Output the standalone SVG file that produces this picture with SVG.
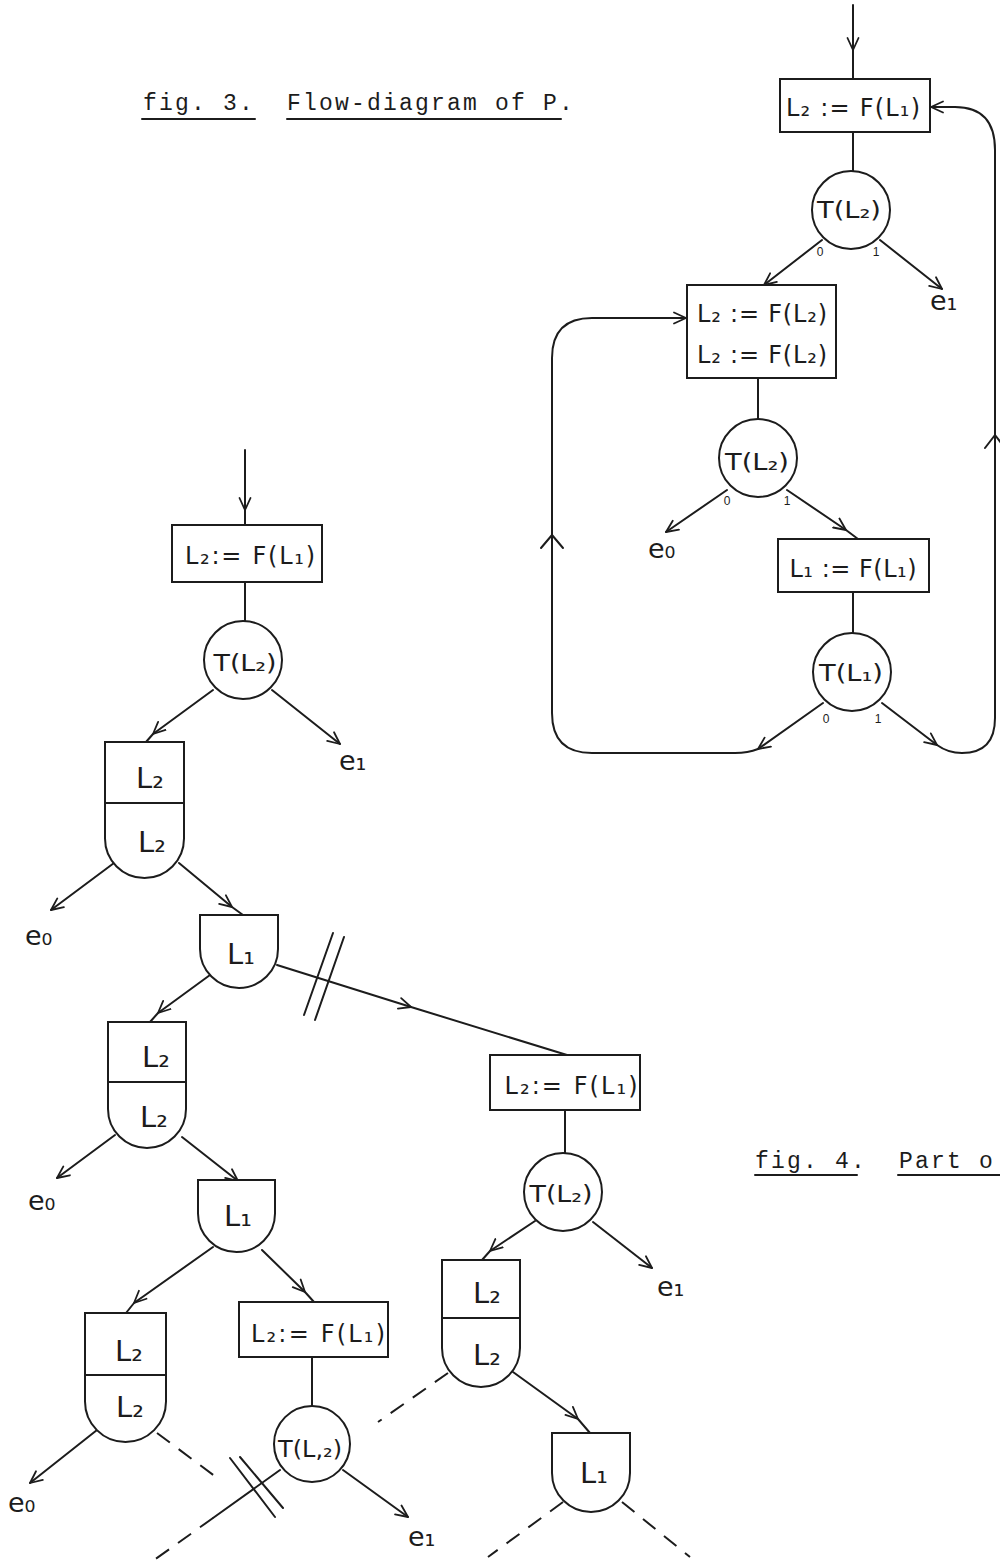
<svg xmlns="http://www.w3.org/2000/svg" width="1000" height="1564" viewBox="0 0 1000 1564">
<defs>
<style>
.ln{fill:none;stroke:#1c1c1c;stroke-width:2;stroke-linecap:round;stroke-linejoin:round}
.nd{fill:#fff;stroke:#1c1c1c;stroke-width:2}
.dash{fill:none;stroke:#1c1c1c;stroke-width:2;stroke-dasharray:16 11}
.end{marker-end:url(#ah)}
.mid{marker-mid:url(#ah)}
.t{font-family:"DejaVu Sans",sans-serif;fill:#1c1c1c}
.bt{font-size:24px;text-anchor:middle}
.ct{font-size:23px;text-anchor:middle}
.lb{font-size:29px;text-anchor:middle}
.el{font-size:27px}
.br{font-family:"Liberation Sans",sans-serif;font-size:12px;fill:#1c1c1c;text-anchor:middle}
.ttl{font-family:"Liberation Mono",monospace;font-size:23px;letter-spacing:2.2px;fill:#1c1c1c;white-space:pre}
</style>
<marker id="ah" viewBox="0 0 14 14" refX="13" refY="7" markerWidth="14" markerHeight="14" markerUnits="userSpaceOnUse" orient="auto">
<path d="M1,1.5 L13,7 L1,12.5" fill="none" stroke="#1c1c1c" stroke-width="1.8" stroke-linecap="round" stroke-linejoin="round"/>
</marker>
</defs>
<rect width="1000" height="1564" fill="#fff"/>

<g id="titles">
<text class="ttl" x="143" y="110" xml:space="preserve">fig. 3.  Flow-diagram of P.</text>
<line class="ln" x1="142" y1="119" x2="255" y2="119" stroke-width="1.6"/>
<line class="ln" x1="287" y1="119" x2="561" y2="119" stroke-width="1.6"/>
<text class="ttl" x="755" y="1168" xml:space="preserve">fig. 4.  Part o</text>
<line class="ln" x1="755" y1="1175" x2="857" y2="1175" stroke-width="1.6"/>
<line class="ln" x1="898" y1="1175" x2="1000" y2="1175" stroke-width="1.6"/>
</g>

<g id="connectors">
<!-- fig 3 -->
<path class="ln mid" d="M853,5 L853,50 L853,79"/>
<path class="ln" d="M853,132 L853,171"/>
<path class="ln end" d="M822,240 L764,285"/>
<path class="ln end" d="M880,240 L942,289"/>
<path class="ln" d="M758,378 L758,419"/>
<path class="ln end" d="M727,490 L666,532"/>
<path class="ln mid" d="M787,490 L846,530 L858,539"/>
<path class="ln" d="M853,592 L853,633"/>
<path class="ln end" d="M823,703 L758,749"/>
<path class="ln end" d="M758,749 Q748,753 735,753 L592,753 Q552,753 552,713 L552,358 Q552,318 592,318 L686,318"/>
<path class="ln" d="M541,548 L552,535 L563,548"/>
<path class="ln end" d="M882,703 L937,745"/>
<path class="ln end" d="M937,745 Q948,753 962,753 Q995,753 995,718 L995,150 Q995,107 955,107 L931,107"/>
<path class="ln" d="M985,448 L995,435 L1005,448"/>
<!-- fig 4 -->
<path class="ln mid" d="M245,450 L245,510 L245,525"/>
<path class="ln" d="M245,582 L245,621"/>
<path class="ln mid" d="M213,690 L153,734 L146,742"/>
<path class="ln end" d="M272,690 L340,744"/>
<path class="ln end" d="M114,863 L51,910"/>
<path class="ln mid" d="M179,863 L232,907 L243,915"/>
<path class="ln mid" d="M210,975 L158,1013 L150,1022"/>
<path class="ln mid" d="M277,965 L411,1007 L567,1055"/>
<path class="ln" d="M333,933 L304,1015"/>
<path class="ln" d="M344,937 L315,1020"/>
<path class="ln" d="M565,1110 L565,1153"/>
<path class="ln mid" d="M535,1221 L490,1251 L482,1260"/>
<path class="ln end" d="M593,1222 L652,1268"/>
<path class="dash" d="M448,1373 L378,1422"/>
<path class="ln mid" d="M513,1372 L578,1419 L590,1433"/>
<path class="dash" d="M563,1502 L488,1557"/>
<path class="dash" d="M622,1502 L690,1557"/>
<path class="ln end" d="M115,1135 L57,1178"/>
<path class="ln end" d="M182,1137 L238,1181"/>
<path class="ln mid" d="M213,1247 L134,1303 L126,1313"/>
<path class="ln mid" d="M262,1250 L305,1292 L314,1302"/>
<path class="ln" d="M312,1357 L312,1406"/>
<path class="ln end" d="M97,1430 L30,1483"/>
<path class="dash" d="M157,1433 L220,1480"/>
<path class="ln" d="M280,1470 L213,1518"/>
<path class="dash" d="M213,1518 L150,1563"/>
<path class="ln" d="M230,1458 L275,1517"/>
<path class="ln" d="M240,1457 L283,1508"/>
<path class="ln end" d="M343,1470 L408,1517"/>
</g>

<!-- fig 3 nodes -->
<g id="f3-box1">
<rect class="nd" x="780" y="79" width="150" height="53"/>
<text class="t bt" x="853" y="116" font-size="26" textLength="134" lengthAdjust="spacing">L₂ := F(L₁)</text>
</g>
<g id="f3-test1">
<circle class="nd" cx="851" cy="210" r="39"/>
<text class="t ct" x="849" y="218" textLength="64" lengthAdjust="spacingAndGlyphs">T(L₂)</text>
<text class="br" x="820" y="256">0</text>
<text class="br" x="876" y="256">1</text>
</g>
<text id="f3-e1" class="t el" x="930" y="310">e₁</text>
<g id="f3-box2">
<rect class="nd" x="687" y="285" width="149" height="93"/>
<text class="t bt" x="762" y="322" font-size="26" textLength="130" lengthAdjust="spacing">L₂ := F(L₂)</text>
<text class="t bt" x="762" y="363" font-size="26" textLength="130" lengthAdjust="spacing">L₂ := F(L₂)</text>
</g>
<g id="f3-test2">
<circle class="nd" cx="758" cy="458" r="39"/>
<text class="t ct" x="757" y="470" textLength="64" lengthAdjust="spacingAndGlyphs">T(L₂)</text>
<text class="br" x="727" y="505">0</text>
<text class="br" x="787" y="505">1</text>
</g>
<text id="f3-e0" class="t el" x="648" y="558">e₀</text>
<g id="f3-box3">
<rect class="nd" x="778" y="539" width="151" height="53"/>
<text class="t bt" x="853" y="577" textLength="127" lengthAdjust="spacing">L₁ := F(L₁)</text>
</g>
<g id="f3-test3">
<circle class="nd" cx="852" cy="672" r="39"/>
<text class="t ct" x="851" y="681" textLength="64" lengthAdjust="spacingAndGlyphs">T(L₁)</text>
<text class="br" x="826" y="723">0</text>
<text class="br" x="878" y="723">1</text>
</g>

<!-- fig 4 nodes -->
<g id="f4-box-a">
<rect class="nd" x="172" y="525" width="150" height="57"/>
<text class="t bt" x="250" y="564" textLength="130" lengthAdjust="spacing">L₂:= F(L₁)</text>
</g>
<g id="f4-test-a">
<circle class="nd" cx="243" cy="660" r="39"/>
<text class="t ct" x="245" y="671" font-size="21" textLength="63" lengthAdjust="spacingAndGlyphs">T(L₂)</text>
</g>
<text id="f4-e1-a" class="t el" x="339" y="770">e₁</text>
<g id="f4-node-b">
<path class="nd" d="M105,742 H184 V838.5 A39.5,39.5 0 0 1 105,838.5 Z"/>
<line class="ln" x1="105" y1="803" x2="184" y2="803"/>
<text class="t lb" x="150" y="788">L₂</text>
<text class="t lb" x="152" y="852">L₂</text>
</g>
<text id="f4-e0-b" class="t el" x="25" y="945">e₀</text>
<g id="f4-node-c">
<path class="nd" d="M200,915 H278 V949 A39,39 0 0 1 200,949 Z"/>
<text class="t lb" x="241" y="964">L₁</text>
</g>
<g id="f4-node-d">
<path class="nd" d="M108,1022 H186 V1109 A39,39 0 0 1 108,1109 Z"/>
<line class="ln" x1="108" y1="1082" x2="186" y2="1082"/>
<text class="t lb" x="156" y="1067">L₂</text>
<text class="t lb" x="154" y="1127">L₂</text>
</g>
<text id="f4-e0-d" class="t el" x="28" y="1210">e₀</text>
<g id="f4-node-h">
<path class="nd" d="M198,1180 H275 V1213.5 A38.5,38.5 0 0 1 198,1213.5 Z"/>
<text class="t lb" x="238" y="1226">L₁</text>
</g>
<g id="f4-node-i">
<path class="nd" d="M85,1313 H166 V1401.5 A40.5,40.5 0 0 1 85,1401.5 Z"/>
<line class="ln" x1="85" y1="1375" x2="166" y2="1375"/>
<text class="t lb" x="129" y="1361">L₂</text>
<text class="t lb" x="130" y="1417">L₂</text>
</g>
<text id="f4-e0-i" class="t el" x="8" y="1512">e₀</text>
<g id="f4-box-j">
<rect class="nd" x="239" y="1302" width="149" height="55"/>
<text class="t bt" x="318" y="1342" textLength="134" lengthAdjust="spacing">L₂:= F(L₁)</text>
</g>
<g id="f4-test-j">
<circle class="nd" cx="312" cy="1444" r="38"/>
<text class="t ct" x="310" y="1457" font-size="21" textLength="64" lengthAdjust="spacingAndGlyphs">T(L,₂)</text>
</g>
<text id="f4-e1-j" class="t el" x="408" y="1546">e₁</text>
<g id="f4-box-e">
<rect class="nd" x="490" y="1055" width="150" height="55"/>
<text class="t bt" x="571" y="1094" textLength="133" lengthAdjust="spacing">L₂:= F(L₁)</text>
</g>
<g id="f4-test-e">
<circle class="nd" cx="563" cy="1192" r="39"/>
<text class="t ct" x="561" y="1202" font-size="21" textLength="63" lengthAdjust="spacingAndGlyphs">T(L₂)</text>
</g>
<text id="f4-e1-e" class="t el" x="657" y="1296">e₁</text>
<g id="f4-node-f">
<path class="nd" d="M442,1260 H520 V1348 A39,39 0 0 1 442,1348 Z"/>
<line class="ln" x1="442" y1="1318" x2="520" y2="1318"/>
<text class="t lb" x="487" y="1303">L₂</text>
<text class="t lb" x="487" y="1365">L₂</text>
</g>
<g id="f4-node-g">
<path class="nd" d="M552,1433 H630 V1473 A39,39 0 0 1 552,1473 Z"/>
<text class="t lb" x="594" y="1483">L₁</text>
</g>
</svg>
